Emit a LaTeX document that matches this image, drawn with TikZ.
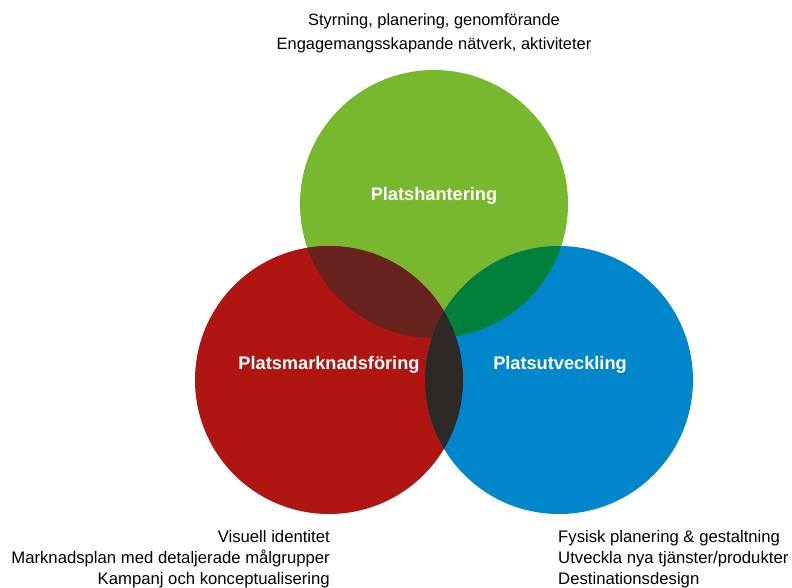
\documentclass[tikz,border=0pt]{standalone}
\usepackage{fontspec}
\setmainfont{Liberation Sans}
\usetikzlibrary{positioning}
\definecolor{gron}{HTML}{77B82E}
\definecolor{rod}{HTML}{AF1612}
\definecolor{bla}{HTML}{0087CB}
\definecolor{rodgron}{HTML}{66231E}
\definecolor{gronbla}{HTML}{00803A}
\definecolor{mork}{HTML}{2C2926}

\begin{document}
\begin{tikzpicture}[x=1pt, y=-1pt,
    rubrik/.style={text=white, inner sep=0pt, font=\bfseries\fontsize{18.2}{21}\selectfont},
    info/.style={text=black, inner sep=0pt, font=\fontsize{16.7}{21}\selectfont}]
        \useasboundingbox (0,0) rectangle (792,587);
        \coordinate (cgron) at (434,204);
        \coordinate (crod) at (329,380);
        \coordinate (cbla) at (559,380);
        \fill[gron] (cgron) circle (134pt);
        \fill[rod] (crod) circle (134pt);
        \fill[bla] (cbla) circle (134pt);
        % overlaps
        \begin{scope}
            \clip (cgron) circle (134pt);
            \fill[rodgron] (crod) circle (134pt);
            \fill[gronbla] (cbla) circle (134pt);
        \end{scope}
        \begin{scope}
            \clip (crod) circle (134pt);
            \fill[mork] (cbla) circle (134pt);
        \end{scope}
        \node[rubrik] (hantering) at (434,195.5) {Platshantering};
        \node[rubrik] (marknad) at (329,364.5) {Platsmarknadsföring};
        \node[rubrik] (utveckling) at (560,364.5) {Platsutveckling};
        \node[info, align=center, font=\fontsize{16.4}{24}\selectfont] (topptext) at (434,33)
            {Styrning, planering, genomförande\\Engagemangsskapande nätverk, aktiviteter};
        \node[info, align=right, anchor=east] (vanstertext) at (330,559)
            {Visuell identitet\\Marknadsplan med detaljerade målgrupper\\Kampanj och konceptualisering};
        \node[info, align=left, anchor=west] (hogertext) at (558,559)
            {Fysisk planering \& gestaltning\\Utveckla nya tjänster/produkter\\Destinationsdesign};
    \end{tikzpicture}
\end{document}
